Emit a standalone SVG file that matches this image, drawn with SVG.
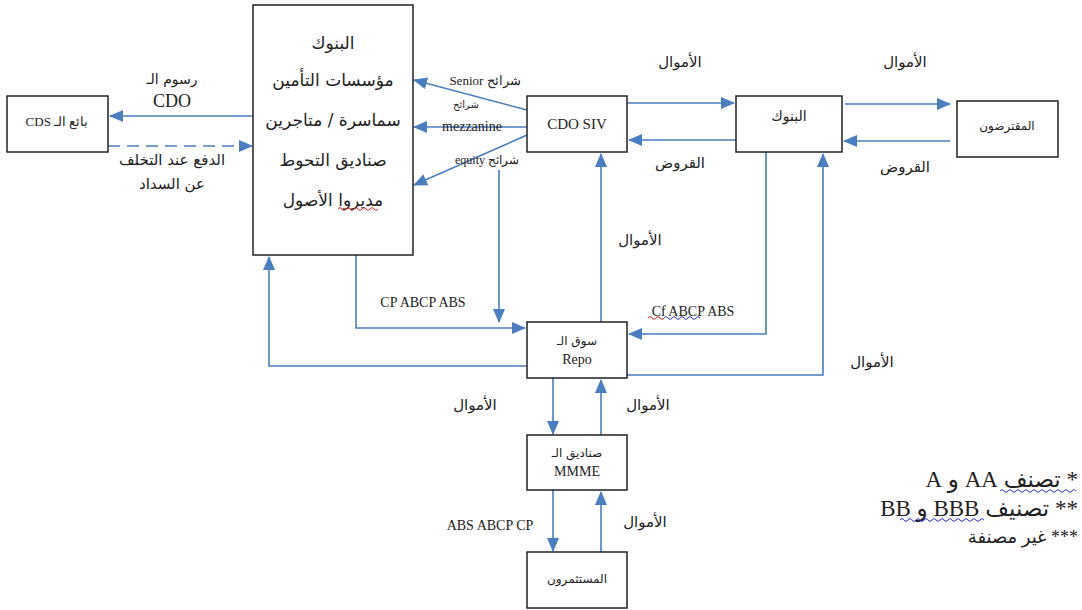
<svg xmlns="http://www.w3.org/2000/svg" width="1082" height="610" viewBox="0 0 1082 610">
<style>
.box{fill:#fff;stroke:#222;stroke-width:1.5}
.ln{fill:none;stroke:#4a7ebf;stroke-width:1.6}
.ar{font-family:"DejaVu Sans","Noto Sans",sans-serif;fill:#222;text-anchor:middle}
.la{font-family:"Liberation Serif","DejaVu Serif",serif;fill:#222;text-anchor:middle}
.lg{font-family:"Liberation Serif","DejaVu Sans",serif;fill:#222}
.sq{fill:none;stroke-width:1}
</style>
<defs>
<marker id="ah" markerUnits="userSpaceOnUse" markerWidth="14" markerHeight="12" refX="13" refY="6" orient="auto">
<path d="M0,0 L14,6 L0,12 Z" fill="#4a7ebf"/>
</marker>
</defs>
<rect width="1082" height="610" fill="#fff"/>

<g id="connectors">
<line class="ln" x1="253" y1="116" x2="110" y2="116" marker-end="url(#ah)"/>
<line class="ln" x1="108" y1="146" x2="252" y2="146" stroke-dasharray="12,7" marker-end="url(#ah)"/>
<line class="ln" x1="527" y1="110" x2="414" y2="80" marker-end="url(#ah)"/>
<line class="ln" x1="527" y1="127" x2="414" y2="127" marker-end="url(#ah)"/>
<line class="ln" x1="527" y1="135" x2="414" y2="185" marker-end="url(#ah)"/>
<line class="ln" x1="627" y1="103" x2="734" y2="103" marker-end="url(#ah)"/>
<line class="ln" x1="736" y1="140" x2="629" y2="140" marker-end="url(#ah)"/>
<line class="ln" x1="845" y1="104" x2="950" y2="104" marker-end="url(#ah)"/>
<line class="ln" x1="950" y1="141" x2="844" y2="141" marker-end="url(#ah)"/>
<polyline class="ln" points="356,255 356,328 525,328" marker-end="url(#ah)"/>
<line class="ln" x1="499" y1="170" x2="499" y2="322" marker-end="url(#ah)"/>
<line class="ln" x1="601" y1="322" x2="601" y2="154" marker-end="url(#ah)"/>
<polyline class="ln" points="766,152 766,334 629,334" marker-end="url(#ah)"/>
<polyline class="ln" points="627,375 823,375 823,154" marker-end="url(#ah)"/>
<polyline class="ln" points="529,366 269,366 269,257" marker-end="url(#ah)"/>
<line class="ln" x1="553" y1="378" x2="553" y2="434" marker-end="url(#ah)"/>
<line class="ln" x1="601" y1="435" x2="601" y2="380" marker-end="url(#ah)"/>
<line class="ln" x1="553" y1="490" x2="553" y2="551" marker-end="url(#ah)"/>
<line class="ln" x1="601" y1="552" x2="601" y2="492" marker-end="url(#ah)"/>
</g>

<g id="labels">
<text class="ar" x="172" y="84" font-size="14" direction="rtl">رسوم الـ</text>
<text class="la" x="172" y="107" font-size="18">CDO</text>
<text class="ar" x="172" y="165" font-size="15" direction="rtl">الدفع عند التخلف</text>
<text class="ar" x="172" y="189" font-size="15" direction="rtl">عن السداد</text>
<text class="la" x="485" y="85" font-size="13" direction="rtl">شرائح Senior</text>
<text class="ar" x="466" y="108" font-size="10" direction="rtl">شرائح</text>
<text class="la" x="472" y="131" font-size="14">mezzanine</text>
<text class="la" x="487" y="164" font-size="12" direction="rtl">شرائح equity</text>
<text class="ar" x="680" y="67" font-size="15" direction="rtl">الأموال</text>
<text class="ar" x="680" y="168" font-size="15" direction="rtl">القروض</text>
<text class="ar" x="905" y="67" font-size="15" direction="rtl">الأموال</text>
<text class="ar" x="905" y="172" font-size="15" direction="rtl">القروض</text>
<text class="la" x="423" y="307" font-size="14">CP ABCP ABS</text>
<text class="ar" x="640" y="245" font-size="15" direction="rtl">الأموال</text>
<text class="la" x="693" y="316" font-size="14">Cf ABCP ABS</text>
<text class="ar" x="872" y="367" font-size="15" direction="rtl">الأموال</text>
<text class="ar" x="475" y="410" font-size="15" direction="rtl">الأموال</text>
<text class="ar" x="648" y="410" font-size="15" direction="rtl">الأموال</text>
<text class="la" x="490" y="530" font-size="14">ABS ABCP CP</text>
<text class="ar" x="645" y="527" font-size="15" direction="rtl">الأموال</text>
<path class="sq" stroke="#d22" d="M648,318 q2,-3 4,0 t4,0 t4,0 t4,0"/>
<path class="sq" stroke="#33c" d="M664,318 q2,-3 4,0 t4,0 t4,0 t4,0 t4,0 t4,0 t4,0 t4,0 t4,0"/>
</g>

<g id="cds-seller">
<rect class="box" x="7" y="96" width="101" height="56"/>
<text class="la" x="57" y="126" font-size="13" direction="rtl">بائع الـ CDS</text>
</g>

<g id="institutions">
<rect class="box" x="253" y="5" width="160" height="250"/>
<text class="ar" x="333" y="49" font-size="17" direction="rtl">البنوك</text>
<text class="ar" x="333" y="86" font-size="17" direction="rtl">مؤسسات التأمين</text>
<text class="ar" x="333" y="126" font-size="17" direction="rtl">سماسرة / متاجرين</text>
<text class="ar" x="333" y="166" font-size="17" direction="rtl">صناديق التحوط</text>
<text class="ar" x="333" y="206" font-size="17" direction="rtl">مديروا الأصول</text>
<path class="sq" stroke="#d22" d="M338,209 q2,-3 4,0 t4,0 t4,0 t4,0 t4,0 t4,0 t4,0 t4,0 t4,0 t4,0"/>
</g>

<g id="cdo-siv">
<rect class="box" x="527" y="96" width="100" height="56"/>
<text class="la" x="577" y="129" font-size="15">CDO SIV</text>
</g>

<g id="banks">
<rect class="box" x="736" y="96" width="106" height="56"/>
<text class="ar" x="789" y="121" font-size="14" direction="rtl">البنوك</text>
</g>

<g id="borrowers">
<rect class="box" x="957" y="101" width="101" height="56"/>
<text class="ar" x="1007" y="130" font-size="12" direction="rtl">المقترضون</text>
</g>

<g id="repo">
<rect class="box" x="527" y="322" width="100" height="56"/>
<text class="ar" x="577" y="345" font-size="12" direction="rtl">سوق الـ</text>
<text class="la" x="577" y="364" font-size="14">Repo</text>
</g>

<g id="mmme">
<rect class="box" x="527" y="435" width="100" height="55"/>
<text class="ar" x="577" y="457" font-size="12" direction="rtl">صناديق الـ</text>
<text class="la" x="577" y="476" font-size="14">MMME</text>
</g>

<g id="investors">
<rect class="box" x="527" y="552" width="100" height="56"/>
<text class="ar" x="577" y="583" font-size="12" direction="rtl">المستثمرون</text>
</g>

<g id="legend">
<text class="lg" x="1078" y="487" font-size="23" direction="rtl" text-anchor="start">* تصنف AA و A</text>
<text class="lg" x="1078" y="516" font-size="23" direction="rtl" text-anchor="start">** تصنيف BBB و BB</text>
<text class="lg" x="1078" y="543" font-size="18" direction="rtl" text-anchor="start">*** غير مصنفة</text>
<path class="sq" stroke="#33c" d="M1000,491 q2,-3 4,0 t4,0 t4,0 t4,0 t4,0 t4,0 t4,0 t4,0 t4,0 t4,0 t4,0 t4,0 t4,0 t4,0 t4,0 t4,0 t4,0 t4,0 t4,0"/>
<path class="sq" stroke="#33c" d="M900,520 q2,-3 4,0 t4,0 t4,0 t4,0 t4,0 t4,0 t4,0 t4,0 t4,0 t4,0 t4,0 t4,0 t4,0 t4,0 t4,0 t4,0 t4,0 t4,0 t4,0 t4,0 t4,0"/>
</g>
</svg>
